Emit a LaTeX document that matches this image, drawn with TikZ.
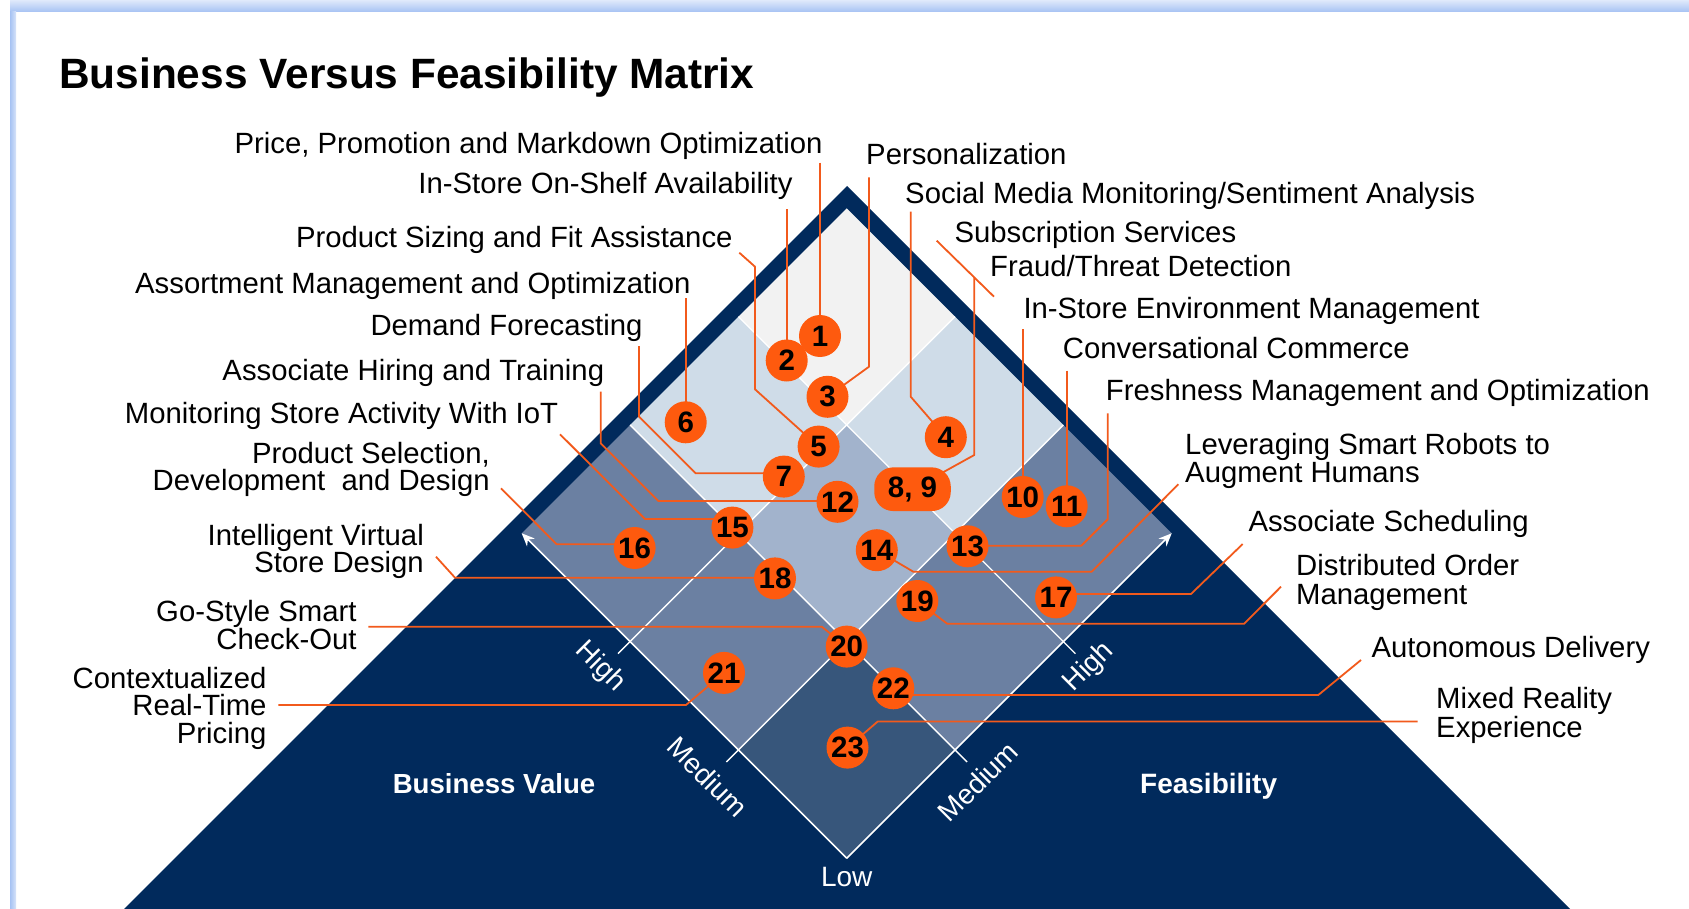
\documentclass[tikz,border=0pt]{standalone}
\usepackage{fontspec}
\setmainfont{Liberation Sans}
\usetikzlibrary{arrows.meta}
\definecolor{navy}{HTML}{012A5C}
\definecolor{cellA}{HTML}{F2F2F2}
\definecolor{cellB}{HTML}{CFDCE8}
\definecolor{cellC}{HTML}{A2B3CC}
\definecolor{cellD}{HTML}{6B80A2}
\definecolor{cellE}{HTML}{37567B}
\definecolor{orng}{HTML}{FE5A0E}
\definecolor{lorng}{HTML}{F25A1C}
\definecolor{frameblue}{HTML}{A6C2F3}
\pgfdeclarelayer{back}
\pgfdeclarelayer{leads}
\pgfsetlayers{back,leads,main}
\newcommand\mxcell[3]{\fill[#3] (#1,#2) -- ({#1+1},#2) -- ({#1+1},{#2+1}) -- (#1,{#2+1}) -- cycle;}
\begin{document}
\begin{tikzpicture}[x=1pt,y=-1pt,
  lbl/.style={inner sep=0pt, text=black, font=\fontsize{29.3}{27.6}\selectfont},
  lblL/.style={lbl, anchor=base east, align=right},
  lblR/.style={lbl, anchor=base west, align=left},
  num/.style={circle, fill=orng, inner sep=0pt, minimum size=42pt, text=black, font=\fontsize{29.5}{29.5}\selectfont\bfseries},
  lead/.style={draw=lorng, line width=1.8pt, line join=round},
  axislbl/.style={inner sep=0pt, text=white, font=\fontsize{28}{28}\selectfont},
  axisttl/.style={inner sep=0pt, text=white, font=\fontsize{28}{28}\selectfont\bfseries},
  gridln/.style={draw=white, line width=1.4pt},
  sidearrow/.style={draw=white, line width=1.6pt, -{Stealth[length=13pt,width=11pt]}},
]
\useasboundingbox (0,0) rectangle (1689,909);
\begin{pgfonlayer}{back}
\fill[white] (0,0) rectangle (1689,909);
\shade[top color=frameblue!35, bottom color=frameblue] (10,0) rectangle (1689,12);
\shade[left color=frameblue, right color=frameblue!45] (10,12) rectangle (16,909);
\fill[navy] (847,186) -- (1570,909) -- (124,909) -- cycle;
\begin{scope}[shift={(846.7,858.3)}, x={(-108.333pt,108.333pt)}, y={(108.333pt,108.333pt)}]
  \mxcell{0}{0}{cellE}
  \mxcell{1}{0}{cellD}\mxcell{0}{1}{cellD}\mxcell{2}{0}{cellD}\mxcell{0}{2}{cellD}
  \mxcell{1}{1}{cellC}
  \mxcell{2}{1}{cellB}\mxcell{1}{2}{cellB}
  \mxcell{2}{2}{cellA}
  \draw[gridln] (1,-0.111) -- (1,3);
  \draw[gridln] (2,-0.111) -- (2,3);
  \draw[gridln] (-0.111,1) -- (3,1);
  \draw[gridln] (-0.111,2) -- (3,2);
  \coordinate (bot) at (0,0);
  \coordinate (leftv) at (3,0);
  \coordinate (rightv) at (0,3);
  \draw[sidearrow] (bot) -- (leftv);
  \draw[sidearrow] (bot) -- (rightv);
\end{scope}
\end{pgfonlayer}

% title
\node[anchor=base west, inner sep=0pt, font=\fontsize{42.4}{42}\selectfont\bfseries] (title) at (59,88.3) {Business Versus Feasibility Matrix};

% axis labels
\node[axisttl, anchor=base, font=\fontsize{27.6}{28}\selectfont\bfseries] (bv) at (494,793.3) {Business Value};
\node[axisttl, anchor=base east] (fe) at (1277.3,793.8) {Feasibility};
\node[axislbl, anchor=base] (low) at (846.7,886.7) {Low};
\node[axislbl, rotate=-45] (hiL) at (600,667) {High};
\node[axislbl, rotate=-45] (mdL) at (707.5,776.7) {Medium};
\node[axislbl, rotate=45] (mdR) at (978,781.7) {Medium};
\node[axislbl, rotate=45] (hiR) at (1089,667.5) {High};

% markers
\node[num] (c1) at (820,336) {1};
\node[num] (c2) at (786.7,360.5) {2};
\node[num] (c3) at (827.5,396.8) {3};
\node[num] (c4) at (945.8,437.2) {4};
\node[num] (c7) at (783.8,476.6) {7};
\node[num] (c5) at (818.6,446.6) {5};
\node[num] (c6) at (685.7,422.3) {6};
\node[num] (c10) at (1022.7,497) {10};
\node[num] (c11) at (1066.7,506.3) {11};
\node[num] (c12) at (837.5,501.8) {12};
\node[num] (c13) at (967.5,546.3) {13};
\node[num] (c14) at (876.8,550.2) {14};
\node[num] (c15) at (732.4,527.6) {15};
\node[num] (c16) at (634.6,548) {16};
\node[num] (c17) at (1056,597.4) {17};
\node[num] (c18) at (775,578.4) {18};
\node[num] (c19) at (917.3,601) {19};
\node[num] (c20) at (846.7,646.6) {20};
\node[num] (c21) at (724,672.9) {21};
\node[num] (c22) at (893.3,688.3) {22};
\node[num] (c23) at (847.5,747.6) {23};
\node[fill=orng, rounded corners=19pt, inner sep=0pt, minimum width=76.5pt, minimum height=43.7pt, text=black, font=\fontsize{29.5}{29.5}\selectfont\bfseries] (c89) at (912.5,489.2) {8, 9};

% left labels (multi-line nodes anchored at the baseline of their last line)
\node[lblL] (Lprice) at (822.7,153.3) {Price, Promotion and Markdown Optimization};
\node[lblL] (Lshelf) at (792.7,194) {In-Store On-Shelf Availability};
\node[lblL] (Lsize) at (732.7,247.7) {Product Sizing and Fit Assistance};
\node[lblL] (Lassort) at (690.7,293.3) {Assortment Management and Optimization};
\node[lblL] (Ldemand) at (642.7,335) {Demand Forecasting};
\node[lblL] (Lhire) at (604.3,380) {Associate Hiring and Training};
\node[lblL] (Liot) at (558.3,423.3) {Monitoring Store Activity With IoT};
\node[lblL] (Lprod) at (490,490.7) {Product Selection,\\Development~ and Design};
\node[lblL] (Lvirt) at (424,572.7) {Intelligent Virtual\\Store Design};
\node[lblL] (Lgo) at (356.7,649.3) {Go-Style Smart\\Check-Out};
\node[lblL] (Lctx) at (266.7,743.3) {Contextualized\\Real-Time\\Pricing};

% right labels
\node[lblR] (Lpers) at (866,165) {Personalization};
\node[lblR] (Lsocial) at (905,204) {Social Media Monitoring/Sentiment Analysis};
\node[lblR] (Lsubs) at (954.3,242.7) {Subscription Services};
\node[lblR] (Lfraud) at (990,276.7) {Fraud/Threat Detection};
\node[lblR] (Lenv) at (1023.3,319) {In-Store Environment Management};
\node[lblR] (Lconv) at (1062.7,358.3) {Conversational Commerce};
\node[lblR] (Lfresh) at (1105.7,400) {Freshness Management and Optimization};
\node[lblR, font=\fontsize{29.3}{28.7}\selectfont] (Lrobot) at (1185,482.7) {Leveraging Smart Robots to\\Augment Humans};
\node[lblR] (Lsched) at (1248.3,531.7) {Associate Scheduling};
\node[lblR, font=\fontsize{29.3}{29}\selectfont] (Ldist) at (1296,604) {Distributed Order\\Management};
\node[lblR] (Lauto) at (1371.3,657.3) {Autonomous Delivery};
\node[lblR, font=\fontsize{29.3}{25}\selectfont] (Lmix) at (1436,737.3) {Mixed Reality\\Experience};

% leader start points
\coordinate (a1) at (820,162.7);
\coordinate (a2) at (786.7,209.3);
\coordinate (a3) at (869,177.3);
\coordinate (a4) at (910.7,211.7);
\coordinate (a5) at (739.3,252.7);
\coordinate (a6) at (685.7,298.3);
\coordinate (a7) at (639,346);
\coordinate (a12) at (600.7,391.7);
\coordinate (a15) at (560,434.3);
\coordinate (a16) at (501,488.3);
\coordinate (a18) at (436,556.7);
\coordinate (a20) at (368.3,626.7);
\coordinate (a21) at (278.3,705);
\coordinate (a8) at (936.7,240.7);
\coordinate (a9) at (994,296.7);
\coordinate (j89) at (974.3,277.45);
\coordinate (a10) at (1022.7,329.3);
\coordinate (a11) at (1066.7,370.7);
\coordinate (a13) at (1107.7,413.3);
\coordinate (a14) at (1178.3,484.3);
\coordinate (a17) at (1242.7,544);
\coordinate (a19) at (1281,586.7);
\coordinate (a22) at (1361,660);
\coordinate (a23) at (1417.7,721.5);

\begin{pgfonlayer}{leads}
\draw[lead] (a1) -- (c1.center);
\draw[lead] (a2) -- (c2.center);
\draw[lead] (a3) -- (869,366.7) -- (c3.center);
\draw[lead] (a4) -- (910.7,396.7) -- (c4.center);
\draw[lead] (a5) -- (755,266.7) -- (755,389.3) -- (c5.center);
\draw[lead] (a6) -- (c6.center);
\draw[lead] (a7) -- (639,416.7) -- (695.6,473.3) -| (c7.center);
\draw[lead] (a12) -- (600.7,443.3) -- (658.3,501) -| (c12.center);
\draw[lead] (a15) -- (645,519) -| (c15.center);
\draw[lead] (a16) -- (556.7,544.3) -| (c16.center);
\draw[lead] (a18) -- (455,577.7) -| (c18.center);
\draw[lead] (a20) -- (821.7,626.7) -- (c20.center);
\draw[lead] (a21) -- (686,705) -- (c21.center);
\draw[lead] (a8) -- (a9);
\draw[lead] (j89) -- (974.3,455) -- (c89.center);
\draw[lead] (a10) -- (c10.center);
\draw[lead] (a11) -- (c11.center);
\draw[lead] (a13) -- (1107.7,519.3) -- (1081.3,545.7) -| (c13.center);
\draw[lead] (a14) -- (1091.7,571.7) -- (913.3,571.7) -- (c14.center);
\draw[lead] (a17) -- (1191,594) -| (c17.center);
\draw[lead] (a19) -- (1244,623.8) -- (947.3,623.8) -- (c19.center);
\draw[lead] (a22) -- (1318.3,695) -| (c22.center);
\draw[lead] (a23) -- (877.7,721.5) -- (c23.center);
\end{pgfonlayer}
\end{tikzpicture}
\end{document}
